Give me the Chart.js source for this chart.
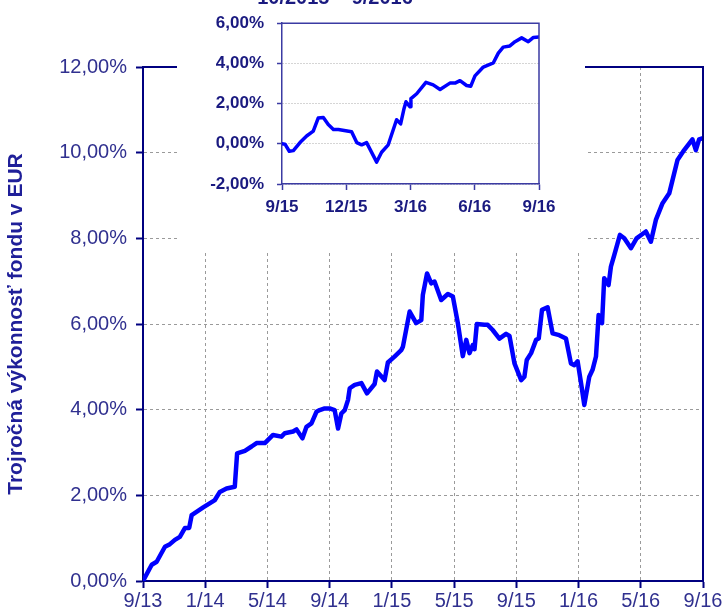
<!DOCTYPE html>
<html><head><meta charset="utf-8">
<script src="https://cdn.jsdelivr.net/npm/chart.js@4/dist/chart.umd.min.js"></script>
<style>
html,body{margin:0;padding:0;background:#fff;overflow:hidden}
#wrap{position:relative;width:724px;height:614px}
#main{position:absolute;left:0;top:0}
#inset{position:absolute;left:177px;top:0;background:#fff}
</style></head><body>
<div id="wrap"><canvas id="main" width="724" height="614"></canvas><canvas id="inset" width="408" height="250"></canvas></div>
<script>
// ---- main chart data (months since 9/2013, value in %) ----
const mainMonths = [0,0.56,0.88,1.41,1.73,2.05,2.37,2.70,2.97,3.13,3.87,4.62,4.94,5.37,5.90,6.05,6.55,6.98,7.30,7.83,8.36,8.90,9.11,9.65,9.87,10.25,10.51,10.83,11.15,11.36,11.68,12.00,12.32,12.54,12.75,12.97,13.18,13.29,13.61,14.04,14.40,14.89,15.04,15.53,15.74,16.17,16.60,16.71,17.14,17.56,17.89,17.99,18.26,18.53,18.74,19.17,19.60,19.92,20.24,20.56,20.78,20.99,21.20,21.31,21.46,21.95,22.16,22.48,22.91,23.34,23.56,23.88,24.31,24.52,24.67,24.95,25.27,25.44,25.65,26.01,26.33,26.76,27.19,27.51,27.73,27.94,28.16,28.37,28.69,28.90,29.12,29.29,29.51,29.65,29.93,30.08,30.29,30.66,30.94,31.37,31.73,32.33,32.65,32.97,33.40,33.83,34.36,34.79,35.32,35.54,35.75,36.00];
const mainValues = [0,0.38,0.45,0.80,0.86,0.96,1.03,1.24,1.24,1.54,1.72,1.89,2.08,2.16,2.20,2.98,3.04,3.14,3.22,3.22,3.41,3.37,3.45,3.49,3.54,3.33,3.60,3.68,3.95,3.99,4.03,4.03,3.99,3.56,3.91,3.99,4.23,4.50,4.58,4.62,4.38,4.60,4.89,4.69,5.10,5.24,5.39,5.47,6.29,6.02,6.09,6.68,7.18,6.95,6.99,6.56,6.70,6.64,6.02,5.25,5.63,5.32,5.51,5.41,6.00,5.98,5.98,5.86,5.66,5.77,5.72,5.08,4.69,4.77,5.16,5.32,5.63,5.66,6.33,6.39,5.78,5.74,5.66,5.08,5.04,5.13,4.62,4.11,4.77,4.93,5.24,6.21,6.02,7.07,6.91,7.34,7.60,8.08,8.00,7.77,8.00,8.16,7.92,8.43,8.82,9.05,9.83,10.06,10.31,10.06,10.31,10.34];
const mainXTicks = [0,4,8,12,16,20,24,28,32,36];
const mainXLabels = ['9/13','1/14','5/14','9/14','1/15','5/15','9/15','1/16','5/16','9/16'];
const mainYLabels = ['0,00%','2,00%','4,00%','6,00%','8,00%','10,00%','12,00%'];
const yTitle = 'Trojročná výkonnosť fondu v EUR';

// ---- inset chart data (months since 9/2015, value in %) ----
const insetMonths = [0,0.14,0.34,0.53,0.84,1.15,1.46,1.69,1.93,2.16,2.40,2.63,3.25,3.49,3.72,3.95,4.42,4.65,4.96,5.35,5.54,5.70,5.79,5.98,6.02,6.29,6.72,7.06,7.38,7.84,8.08,8.31,8.62,8.81,9.01,9.40,9.87,10.10,10.33,10.64,10.88,11.19,11.50,11.74,12.00];
const insetValues = [0,-0.02,-0.37,-0.34,0.06,0.39,0.63,1.28,1.31,0.96,0.71,0.71,0.60,0.06,-0.05,0.06,-0.91,-0.42,-0.05,1.20,0.99,1.76,2.09,1.84,2.25,2.49,3.06,2.93,2.70,3.02,3.02,3.14,2.90,2.86,3.38,3.82,4.03,4.51,4.81,4.87,5.08,5.27,5.08,5.29,5.32];
const insetXTicks = [0,3,6,9,12];
const insetXLabels = ['9/15','12/15','3/16','6/16','9/16'];
const insetYLabels = ['-2,00%','0,00%','2,00%','4,00%','6,00%'];
const insetTitle = '10/2015 – 9/2016';

const FONT = "'Liberation Sans', Arial, sans-serif";
const NAVY = '#000080';
const LABEL = '#30308f';
const DARK = '#1a1a80';

const frame = (color, width) => ({
  id: 'frame',
  afterDatasetsDraw(chart) {
    const {ctx, chartArea: a} = chart;
    ctx.save();
    ctx.strokeStyle = color; ctx.lineWidth = width;
    ctx.beginPath();
    ctx.moveTo(a.left, a.top); ctx.lineTo(a.right, a.top); ctx.lineTo(a.right, a.bottom);
    ctx.stroke();
    ctx.restore();
  }
});

new Chart(document.getElementById('main'), {
  type: 'line',
  data: { datasets: [{
    data: mainMonths.map((m, i) => ({x: m, y: mainValues[i]})),
    borderColor: '#0000ff', borderWidth: 4.5, pointRadius: 0, tension: 0, fill: false,
    borderJoinStyle: 'round', borderCapStyle: 'round'
  }]},
  options: {
    responsive: false, animation: false,
    layout: { padding: {left: 0, right: 21, top: 67, bottom: 0} },
    plugins: { legend: {display: false}, tooltip: {enabled: false} },
    scales: {
      x: {
        type: 'linear', min: 0, max: 36,
        afterBuildTicks: s => { s.ticks = mainXTicks.map(v => ({value: v})); },
        afterFit: s => { s.height = 33; },
        ticks: { callback: v => mainXLabels[mainXTicks.indexOf(v)], color: LABEL, font: {family: FONT, size: 20}, padding: 1, maxRotation: 0, autoSkip: false },
        grid: { color: '#9a9a9a', lineWidth: 1, tickLength: 7, tickColor: NAVY, tickWidth: 2 },
        border: { color: NAVY, width: 2, dash: [3, 3] }
      },
      y: {
        min: 0, max: 12,
        afterBuildTicks: s => { s.ticks = mainYLabels.map((l, i) => ({value: i * 2})); },
        afterFit: s => { s.width = 143; },
        ticks: { callback: (v) => mainYLabels[Math.round(v / 2)], color: LABEL, font: {family: FONT, size: 20}, padding: 9 },
        grid: { color: '#9a9a9a', lineWidth: 1, tickLength: 7, tickColor: NAVY, tickWidth: 2 },
        border: { color: NAVY, width: 2, dash: [3, 3] },
        title: { display: true, text: yTitle, color: '#1f1f99', font: {family: FONT, size: 21, weight: 'bold'}, padding: {top: 4, bottom: 0} }
      }
    }
  },
  plugins: [frame(NAVY, 2)]
});

const insetTitlePlugin = {
  id: 'insetTitle',
  afterDraw(chart) {
    const ctx = chart.ctx;
    ctx.save();
    ctx.fillStyle = DARK;
    ctx.font = "bold 20px " + FONT;
    ctx.textAlign = 'center';
    ctx.textBaseline = 'alphabetic';
    ctx.fillText(insetTitle, 158, 4);
    ctx.restore();
  }
};

new Chart(document.getElementById('inset'), {
  type: 'line',
  data: { datasets: [{
    data: insetMonths.map((m, i) => ({x: m, y: insetValues[i]})),
    borderColor: '#0000ff', borderWidth: 3.5, pointRadius: 0, tension: 0, fill: false,
    borderJoinStyle: 'round', borderCapStyle: 'round'
  }]},
  options: {
    responsive: false, animation: false,
    layout: { padding: {left: 0, right: 46, top: 19, bottom: 36} },
    plugins: { legend: {display: false}, tooltip: {enabled: false} },
    scales: {
      x: {
        type: 'linear', min: 0, max: 12,
        afterBuildTicks: s => { s.ticks = insetXTicks.map(v => ({value: v})); },
        afterFit: s => { s.height = 30; },
        ticks: { callback: v => insetXLabels[insetXTicks.indexOf(v)], color: DARK, font: {family: FONT, size: 17, weight: 'bold'}, padding: 7, maxRotation: 0, autoSkip: false },
        grid: { drawOnChartArea: false, tickLength: 6, tickColor: '#3b3ba3', tickWidth: 1.5 },
        border: { color: '#3b3ba3', width: 1.5 }
      },
      y: {
        min: -2, max: 6,
        afterBuildTicks: s => { s.ticks = insetYLabels.map((l, i) => ({value: -2 + i * 2})); },
        afterFit: s => { s.width = 105; },
        ticks: { callback: v => insetYLabels[Math.round((v + 2) / 2)], color: DARK, font: {family: FONT, size: 17, weight: 'bold'}, padding: 13 },
        grid: { color: '#aaaaaa', lineWidth: 1, tickLength: 5, tickColor: '#3b3ba3', tickWidth: 1.5 },
        border: { color: '#3b3ba3', width: 1.5, dash: [1, 2] }
      }
    }
  },
  plugins: [frame('#3b3ba3', 1.5), insetTitlePlugin]
});
</script>
</body></html>
